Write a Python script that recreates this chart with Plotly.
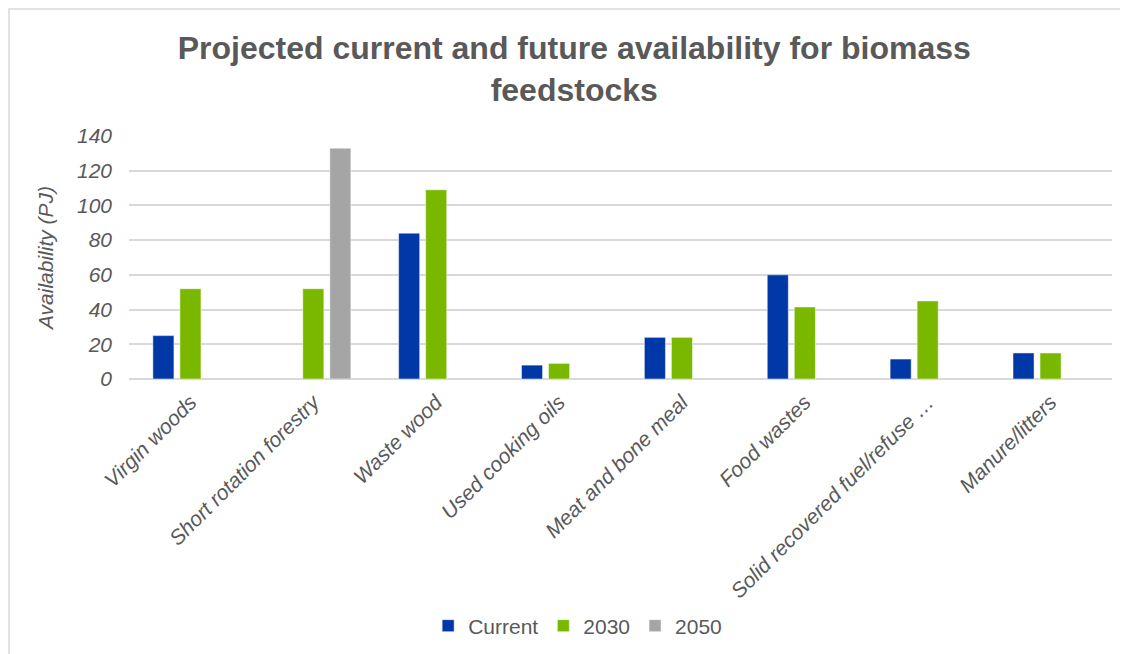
import plotly.graph_objects as go

categories = ["Virgin woods", "Short rotation forestry", "Waste wood", "Used cooking oils",
              "Meat and bone meal", "Food wastes", "Solid recovered fuel/refuse …", "Manure/litters"]
current = [25, None, 84, 8, 24, 60, 11.5, 15]
y2030 = [52, 52, 109, 9, 24, 41.5, 45, 15]
y2050 = [None, 133, None, None, None, None, None, None]
y_ticks = [0, 20, 40, 60, 80, 100, 120, 140]

FONT = "Liberation Sans, Arial, sans-serif"
GREY = "#595959"

fig = go.Figure()
for name, vals, col in [("Current", current, "#0038A8"), ("2030", y2030, "#7AB800"), ("2050", y2050, "#A5A5A5")]:
    fig.add_trace(go.Bar(x=categories, y=vals, name=name, marker=dict(color=col, line=dict(color="white", width=0.5))))

fig.update_layout(
    width=1128, height=654,
    paper_bgcolor="white", plot_bgcolor="white",
    margin=dict(l=121, r=24, t=128, b=283),
    barmode="group", bargap=0.34, bargroupgap=0.22,
    font=dict(family=FONT, color=GREY),
    title=dict(text="<b>Projected current and future availability for biomass<br>feedstocks</b>",
               x=0.502, xanchor="center", y=0.922, yanchor="top", yref="container",
               font=dict(size=32, color=GREY, family=FONT)),
    legend=dict(orientation="h", x=0.505, xanchor="center", xref="container",
                y=1 - 618 / 654, yanchor="middle", yref="container",
                font=dict(size=21, color=GREY), itemwidth=30, traceorder="normal"),
    shapes=[dict(type="rect", xref="paper", yref="paper", x0=-0.1221, x1=1.04, y0=-1.16, y1=1.5226,
                 line=dict(color="#D9D9D9", width=1.5), fillcolor="rgba(0,0,0,0)", layer="below")],
)
fig.update_xaxes(tickangle=-45, tickfont=dict(size=21, color=GREY, style="italic"), showline=False, showgrid=False,
                 fixedrange=True, ticks="", automargin=False, ticklabelstandoff=6)
fig.update_yaxes(range=[0, 140], tickvals=y_ticks, gridcolor="#D9D9D9", gridwidth=1.5,
                 zeroline=True, zerolinecolor="#D9D9D9", zerolinewidth=1.5, automargin=False,
                 tickfont=dict(size=21, color=GREY, style="italic"), ticklabelstandoff=16,
                 title=dict(text="<i>Availability (PJ)</i>", font=dict(size=21, color=GREY), standoff=17))
fig.write_html("out.html")
